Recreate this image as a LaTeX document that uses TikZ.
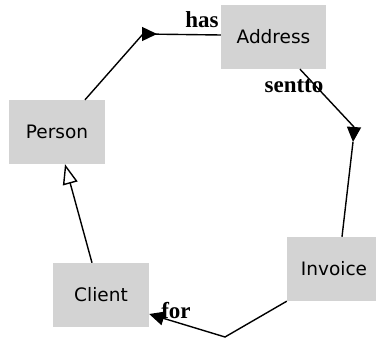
\documentclass[tikz,border=0pt]{standalone}
\usepackage{fontspec}
\setmainfont{Liberation Serif}
\newfontfamily\boxfont{DejaVu Sans}
\usetikzlibrary{arrows.meta}
\definecolor{boxgray}{HTML}{D3D3D3}
\tikzset{
  entity/.style={fill=boxgray, draw=none, inner sep=0pt, minimum height=64pt,
    font=\boxfont\fontsize{18.5}{20}\selectfont},
  link/.style={line width=1.4pt, black},
  rolelabel/.style={font=\fontsize{23}{25}\selectfont\bfseries, inner sep=0pt},
  midtip/.style={line width=1.4pt, -{Triangle[length=15pt,width=14pt]}},
}
\begin{document}
\begin{tikzpicture}[x=1pt, y=-1pt]
  \useasboundingbox (0,0) rectangle (376,339);

  % entities
  \node[entity, minimum width=105pt] (address) at (273.5,37) {Address};
  \node[entity, minimum width=96pt]  (person)  at (57,132)   {Person};
  \node[entity, minimum width=96pt]  (client)  at (101,295)  {Client};
  \node[entity, minimum width=94pt]  (invoice) at (334,269)  {Invoice};

  % bend points of the associations
  \coordinate (hasbend) at (143,34);
  \coordinate (hastip) at (157,34);
  \coordinate (senttobend) at (354,127);
  \coordinate (senttotip) at (353,142);
  \coordinate (forbend) at (225,337);

  % Person -- has --> Address
  \draw[link] (person.north -| 85,0) -- (hasbend) -- (address.west |- 0,35);
  \draw[midtip] (hasbend) -- (hastip);
  \node[rolelabel] (haslabel) at (202,20) {has};

  % Address -- sentto --> Invoice
  \draw[link] (address.south -| 300,0) -- (senttobend);
  \draw[midtip] (senttobend) -- (senttotip);
  \draw[link] (senttotip) -- (invoice.north -| 342,0);
  \node[rolelabel] (senttolabel) at (294,86) {sentto};

  % Invoice -- for --> Client
  \draw[link, -{Triangle[length=15pt,width=14pt]}]
    (invoice.south west) -- (forbend) -- (client.east |- 0,314);
  \node[rolelabel] (forlabel) at (176,311) {for};

  % Client is a Person
  \draw[link, -{Triangle[open, length=20pt, width=15pt, fill=white]}]
    (client.north -| 92,0) -- (person.south -| 65,0);
\end{tikzpicture}
\end{document}
